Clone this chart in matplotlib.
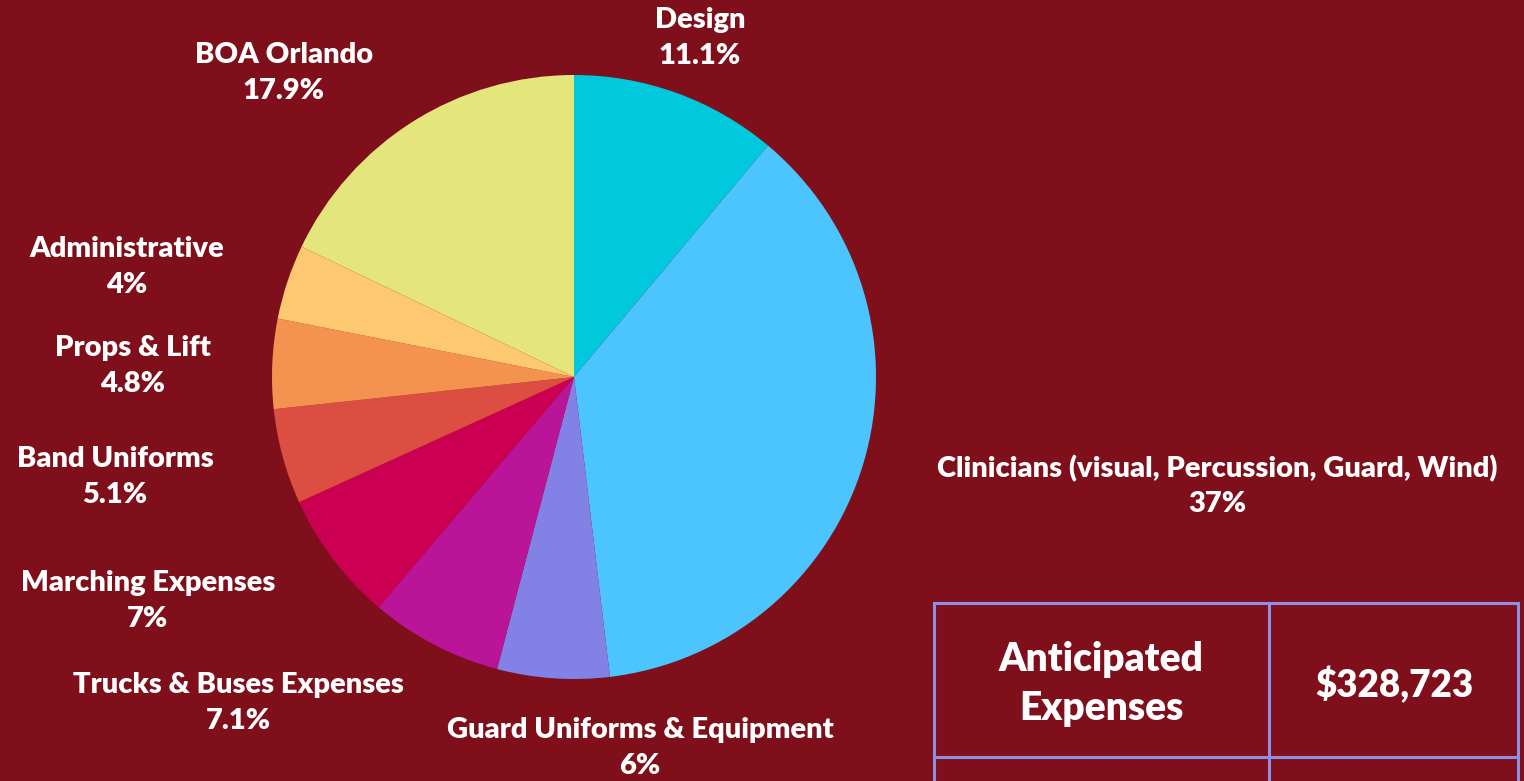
import matplotlib
matplotlib.use("Agg")
import matplotlib.pyplot as plt
from matplotlib.lines import Line2D

categories = ["Design", "Clinicians (visual, Percussion, Guard, Wind)", "Guard Uniforms & Equipment",
              "Trucks & Buses Expenses", "Marching Expenses", "Band Uniforms", "Props & Lift",
              "Administrative", "BOA Orlando"]
values = [11.1, 37, 6, 7.1, 7, 5.1, 4.8, 4, 17.9]
pct_labels = ["11.1%", "37%", "6%", "7.1%", "7%", "5.1%", "4.8%", "4%", "17.9%"]
colors = ["#00C9DD", "#4CC4FE", "#8282E6", "#BA1599", "#CC0052", "#DC4E41", "#F4924F", "#FEC870", "#E4E57A"]
table_header = "Anticipated\nExpenses"
table_value = "$328,723"

BG = "#7F0F1B"
W, H = 1524, 781
fig = plt.figure(figsize=(W / 100, H / 100), dpi=100, facecolor=BG)

def fx(px):
    return px / W

def fy(py):
    return 1 - py / H

cx, cy, r = 574, 377, 302
ax = fig.add_axes([fx(cx - r), fy(cy + r), 2 * r / W, 2 * r / H])
ax.set_facecolor(BG)
ax.pie(values, colors=colors, startangle=90, counterclock=False, radius=1,
       wedgeprops=dict(linewidth=0))
ax.set_xlim(-1, 1)
ax.set_ylim(-1, 1)
ax.set_aspect("equal")
ax.axis("off")

label_pos = [(700, 38), (1217, 486), (640, 748), (238, 703), (148, 601),
             (115, 477), (133, 366), (127, 267), (284, 73)]
font = dict(family=["Lato", "DejaVu Sans"], weight="heavy", color="white", fontsize=21)
for name, pct, (px, py) in zip(categories, pct_labels, label_pos):
    fig.text(fx(px), fy(py), f"{name}\n{pct}", ha="center", va="center",
             linespacing=1.45, **font)

# table
lc = "#8E8FE3"
lw = 2.2
def hline(x0, x1, y):
    fig.add_artist(Line2D([fx(x0), fx(x1)], [fy(y), fy(y)], color=lc, lw=lw, transform=fig.transFigure))
def vline(x, y0, y1):
    fig.add_artist(Line2D([fx(x), fx(x)], [fy(y0), fy(y1)], color=lc, lw=lw, transform=fig.transFigure))

hline(934, 1518, 603)
hline(934, 1518, 757)
vline(934, 603, 790)
vline(1269, 603, 790)
vline(1518, 603, 790)

tfont = dict(family=["Lato", "DejaVu Sans"], weight="heavy", color="white", fontsize=28)
fig.text(fx(1101), fy(684), table_header, ha="center", va="center", linespacing=1.4, **tfont)
fig.text(fx(1394), fy(684), table_value, ha="center", va="center",
         family=["Lato", "DejaVu Sans"], weight="heavy", color="white", fontsize=26.5)

fig.savefig("out.png", dpi=100, facecolor=BG)
